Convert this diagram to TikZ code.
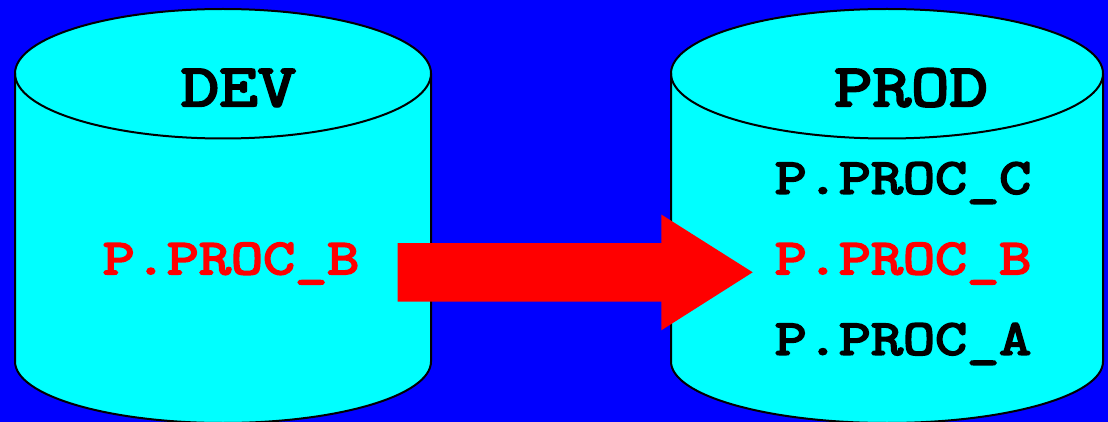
\documentclass[tikz,border=0pt]{standalone}
\usepackage{fontspec}
\newfontfamily\cour{Latin Modern Mono}[FakeBold=4,FakeStretch=1.245]
\definecolor{cy}{RGB}{0,255,255}
\definecolor{bl}{RGB}{0,0,255}
\definecolor{rd}{RGB}{255,0,0}
\tikzset{
 x=1pt,y=-1pt,
 lab/.style={font=\cour\fontsize{50}{50}\selectfont,inner sep=0pt,anchor=base,text=black},
 title/.style={lab,font=\cour\fontsize{60}{60}\selectfont},
 red lab/.style={lab,text=rd},
 drum/.style={fill=cy,draw=black,line width=2pt}
}
\begin{document}
\begin{tikzpicture}
\useasboundingbox (0,0) rectangle (1108,422);
\fill[bl] (0,0) rectangle (1108,422);
\begin{scope}
\clip (0,0) rectangle (1108,422);
\path[drum] (15,73.5) arc[x radius=208,y radius=-64.5,start angle=180,end angle=0] -- (431,361.5) arc[x radius=208,y radius=61.5,start angle=0,end angle=180] -- cycle;
\draw[drum,fill=none] (15,73.5) arc[x radius=208,y radius=65,start angle=180,end angle=0];
\path[drum] (671,73.5) arc[x radius=216,y radius=-64.5,start angle=180,end angle=0] -- (1103,361.5) arc[x radius=216,y radius=61.5,start angle=0,end angle=180] -- cycle;
\draw[drum,fill=none] (671,73.5) arc[x radius=216,y radius=65,start angle=180,end angle=0];
\end{scope}
\node[title] (dev) at (238.5,106) {DEV};
\node[title] (prod) at (911,106) {PROD};
\node[red lab] (srcb) at (231,274) {P.PROC\_B};
\node[lab] (c) at (903,193.5) {P.PROC\_C};
\node[red lab] (dstb) at (903,274) {P.PROC\_B};
\node[lab] (a) at (903,354.5) {P.PROC\_A};
\fill[rd] (397.5,243) -- (661.3,243) -- (661.3,214.5) -- (752.7,272.3) -- (661.3,330.3) -- (661.3,301.7) -- (397.5,301.7) -- cycle;
\end{tikzpicture}
\end{document}
